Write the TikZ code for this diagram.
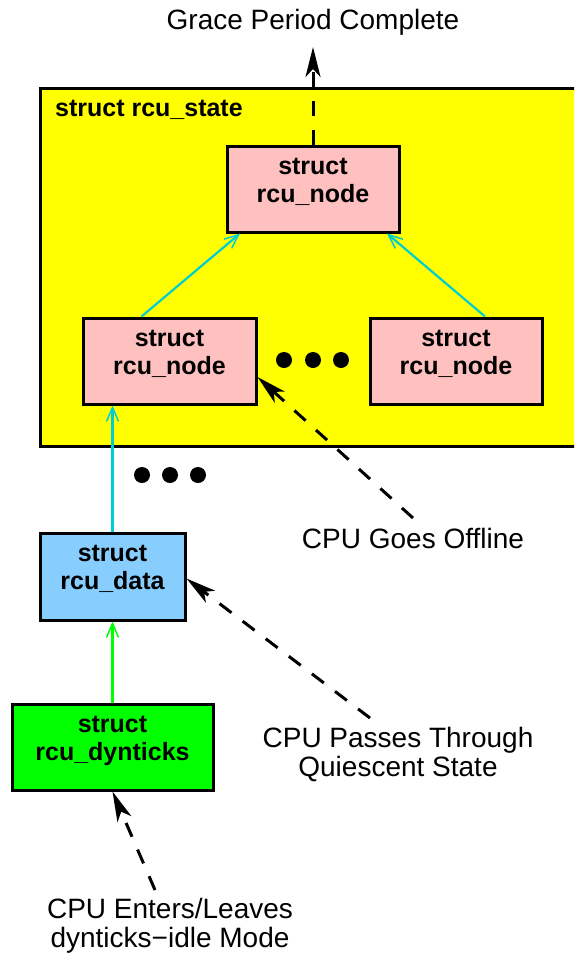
\documentclass[tikz,border=0pt]{standalone}
\usepackage{fontspec}
\setmainfont{Liberation Sans}
\usetikzlibrary{arrows.meta,calc}
\definecolor{xyellow}{RGB}{255,255,0}
\definecolor{xpink}{RGB}{255,192,192}
\definecolor{xblue}{RGB}{135,206,255}
\definecolor{xgreen}{RGB}{0,255,0}
\definecolor{xcyan}{RGB}{0,206,209}
\newcommand{\twolines}[2]{\raisebox{0pt}[28pt][28pt]{\begin{tabular}{@{}c@{}}#1\\#2\end{tabular}}}
\begin{document}
\begin{tikzpicture}[x=1pt,y=-1pt,
  structbox/.style={draw=black,line width=3pt,inner sep=0pt,
    font=\fontsize{25}{28}\selectfont\bfseries},
  nodebox/.style={structbox,fill=xpink,minimum width=172pt,minimum height=86pt},
  lbl/.style={align=center,inner sep=0pt,font=\fontsize{28}{29}\selectfont},
  cyanarrow/.style={draw=xcyan,line width=2.2pt,-{Straight Barb[length=14pt,width=12pt,line width=1.5pt]}},
  greenarrow/.style={draw=xgreen,line width=2.2pt,-{Straight Barb[length=14pt,width=12pt,line width=1.5pt]}},
  event/.style={draw=black,line width=3pt,dash pattern=on 15pt off 14pt,
    -{Stealth[length=30pt,width=15pt,inset=8pt]}},
  dot/.style={fill=black}]
\useasboundingbox (0,0) rectangle (574,954);
\clip (0,0) rectangle (574,954);
% rcu_state container
\draw[fill=xyellow,line width=3pt] (40,88) rectangle (600,446);
\node[anchor=west,inner sep=0pt,font=\fontsize{25}{29}\selectfont\bfseries] (statelbl) at (55,110) {struct rcu\_state};
% nodes
\node[nodebox] (top) at (313,189) {\twolines{struct}{rcu\_node}};
\node[nodebox,minimum width=173pt] (left) at (169.5,361) {\twolines{struct}{rcu\_node}};
\node[nodebox] (right) at (456,361) {\twolines{struct}{rcu\_node}};
\node[structbox,fill=xblue,minimum width=145pt,minimum height=87pt] (data) at (112.5,576.5) {\twolines{struct}{rcu\_data}};
\node[structbox,fill=xgreen,minimum width=201pt,minimum height=86pt] (dyn) at (112.5,747) {\twolines{struct}{rcu\_dynticks}};
% dots
\foreach \x in {284,313,341} \fill[dot] (\x,360) circle (8pt);
\foreach \x in {142,170,198} \fill[dot] (\x,475) circle (8pt);
% connectors
\draw[cyanarrow] ([xshift=-28pt]left.north) -- ([xshift=-73pt]top.south);
\draw[cyanarrow] ([xshift=29pt]right.north) -- ([xshift=74pt]top.south);
\draw[cyanarrow] (data.north) -- (data.north |- left.south);
\draw[greenarrow] (dyn.north) -- (data.south);
% labels
\node[lbl] (gpc) at (313,22) {Grace Period Complete};
\coordinate (gpcA) at (313,47);
\node[lbl] (off) at (413,538) {CPU Goes Offline};
\coordinate (offA) at (413,518);
\node[lbl] (qs) at (398,754) {CPU Passes Through\\Quiescent State};
\coordinate (qsA) at (370,718);
\node[lbl] (dt) at (170,926) {CPU Enters/Leaves\\dynticks−idle Mode};
\coordinate (dtA) at (155,890);
% event arrows
\draw[event] (top.north) -- (gpcA);
\draw[event] (offA) -- ([yshift=-16pt]left.east);
\draw[event] (qsA) -- ([yshift=-2pt]data.east);
\draw[event] (dtA) -- (dyn.south);
\end{tikzpicture}
\end{document}
